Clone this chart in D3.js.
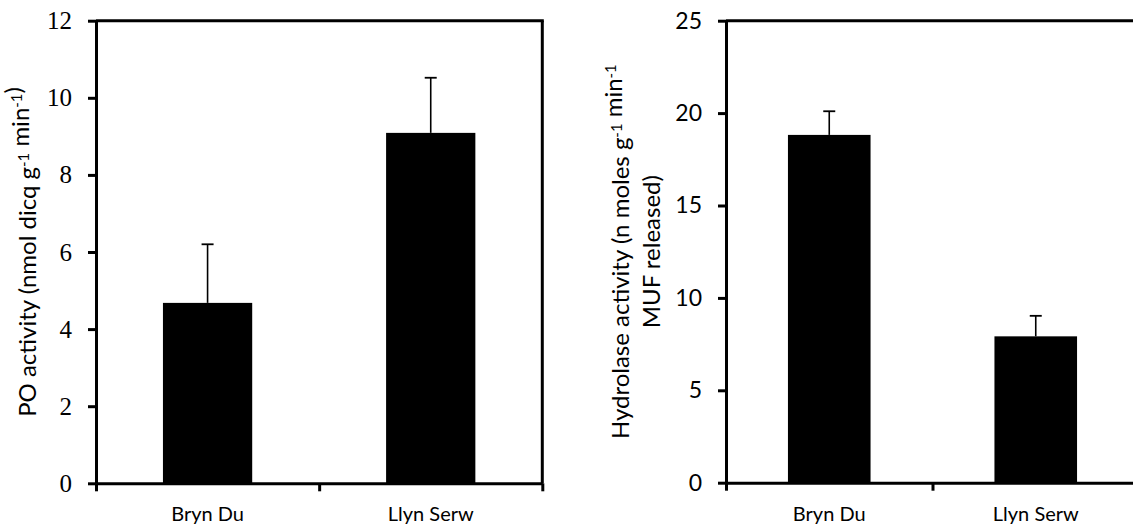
<!DOCTYPE html>
<html>
<head>
<meta charset="utf-8">
<script src="https://cdn.jsdelivr.net/npm/d3@7"></script>
<style>
  html, body { margin: 0; padding: 0; background: #fff; }
  svg { display: block; }
</style>
</head>
<body>
<svg id="chart" width="1133" height="532"></svg>
<script>
// ---- data ----
const categories = ["Bryn Du", "Llyn Serw"];
const poValues = [4.68, 9.09];
const poErrors = [1.52, 1.43];
const poTicks = [0, 2, 4, 6, 8, 10, 12];
const hydValues = [18.82, 7.92];
const hydErrors = [1.28, 1.11];
const hydTicks = [0, 5, 10, 15, 20, 25];

const svg = d3.select("#chart");
const sans = "Lato, 'Open Sans', sans-serif";

function panel(opts) {
  const { x0, x1, yTop, yBot, yMax, values, errors, ticks, tickFont, tickSize, labelLines, labelX, labelSize, lineGap } = opts;
  const g = svg.append("g");
  const y = d3.scaleLinear().domain([0, yMax]).range([yBot, yTop]);
  const xb = d3.scaleBand().domain(categories).range([x0, x1]).paddingInner(0).paddingOuter(0);
  const xl = d3.scaleLinear().domain([0, categories.length]).range([x0, x1]);
  const barW = xb.bandwidth() * 0.4;

  // bars
  g.selectAll("rect.bar").data(values).enter().append("rect")
    .attr("x", (d, i) => xb(categories[i]) + xb.bandwidth() / 2 - barW / 2)
    .attr("y", d => y(d))
    .attr("width", barW)
    .attr("height", d => y(0) - y(d))
    .attr("fill", "#000");

  // error bars (upper only)
  const eb = g.selectAll("g.err").data(values).enter().append("g");
  eb.append("line")
    .attr("x1", (d, i) => xb(categories[i]) + xb.bandwidth() / 2)
    .attr("x2", (d, i) => xb(categories[i]) + xb.bandwidth() / 2)
    .attr("y1", d => y(d))
    .attr("y2", (d, i) => y(d + errors[i]))
    .attr("stroke", "#000").attr("stroke-width", 1.6);
  eb.append("line")
    .attr("x1", (d, i) => xb(categories[i]) + xb.bandwidth() / 2 - 6)
    .attr("x2", (d, i) => xb(categories[i]) + xb.bandwidth() / 2 + 6)
    .attr("y1", (d, i) => y(d + errors[i]))
    .attr("y2", (d, i) => y(d + errors[i]))
    .attr("stroke", "#000").attr("stroke-width", 1.8);

  // frame: top and right
  g.append("line").attr("x1", x0).attr("x2", x1 + 1.5).attr("y1", yTop).attr("y2", yTop)
    .attr("stroke", "#000").attr("stroke-width", 3);
  g.append("line").attr("x1", x1).attr("x2", x1).attr("y1", yTop).attr("y2", yBot)
    .attr("stroke", "#000").attr("stroke-width", 3);

  // y axis
  const ya = g.append("g").attr("transform", `translate(${x0},0)`)
    .call(d3.axisLeft(y).tickValues(ticks).tickSize(8).tickSizeOuter(0).tickPadding(16).tickFormat(d3.format("d")));
  ya.select(".domain").attr("stroke", "#000").attr("stroke-width", 3);
  ya.selectAll(".tick line").attr("stroke", "#000").attr("stroke-width", 3);
  ya.selectAll(".tick text").attr("font-family", tickFont).attr("font-size", tickSize).attr("fill", "#000");

  // x axis: ticks at band boundaries
  const xa = g.append("g").attr("transform", `translate(0,${yBot})`)
    .call(d3.axisBottom(xl).tickValues(d3.range(categories.length + 1)).tickSize(8).tickSizeOuter(0).tickFormat(""));
  xa.select(".domain").attr("stroke", "#000").attr("stroke-width", 3);
  xa.selectAll(".tick line").attr("stroke", "#000").attr("stroke-width", 3);

  // category labels
  const xc = g.append("g").attr("transform", `translate(0,${yBot})`)
    .call(d3.axisBottom(xb).tickSize(0).tickPadding(24));
  xc.select(".domain").remove();
  xc.selectAll(".tick text").attr("font-family", sans).attr("font-size", 20).attr("fill", "#000");

  // y label
  const cy = (yTop + yBot) / 2;
  const lab = g.append("text")
    .attr("transform", `translate(${labelX},${cy}) rotate(-90)`)
    .attr("text-anchor", "middle")
    .attr("font-family", sans)
    .attr("font-size", labelSize).attr("fill", "#000");
  labelLines.forEach((parts, li) => {
    const t = lab.append("tspan").attr("x", 0).attr("y", li * lineGap);
    parts.forEach(p => {
      if (p.sup) {
        t.append("tspan").attr("font-size", labelSize * 0.62).attr("dy", -labelSize * 0.28).text(p.t);
        t.append("tspan").attr("dy", labelSize * 0.28).text("");
      } else {
        t.append("tspan").text(p.t);
      }
    });
  });
}

panel({
  x0: 96, x1: 542.3, yTop: 20.7, yBot: 483.3, yMax: 12,
  values: poValues, errors: poErrors, ticks: poTicks,
  tickFont: "'Liberation Serif', 'Times New Roman', serif", tickSize: 25,
  labelLines: [[{t: "PO activity (nmol dicq g"}, {t: "-1", sup: true}, {t: " min"}, {t: "-1", sup: true}, {t: ")"}]],
  labelX: 35.5, labelSize: 24, lineGap: 0
});

panel({
  x0: 726, x1: 1139, yTop: 20.7, yBot: 482.7, yMax: 25,
  values: hydValues, errors: hydErrors, ticks: hydTicks,
  tickFont: sans, tickSize: 23,
  labelLines: [
    [{t: "Hydrolase activity (n moles g"}, {t: "-1", sup: true}, {t: " min"}, {t: "-1", sup: true}],
    [{t: "MUF released)"}]
  ],
  labelX: 629, labelSize: 24, lineGap: 31
});
</script>
</body>
</html>
